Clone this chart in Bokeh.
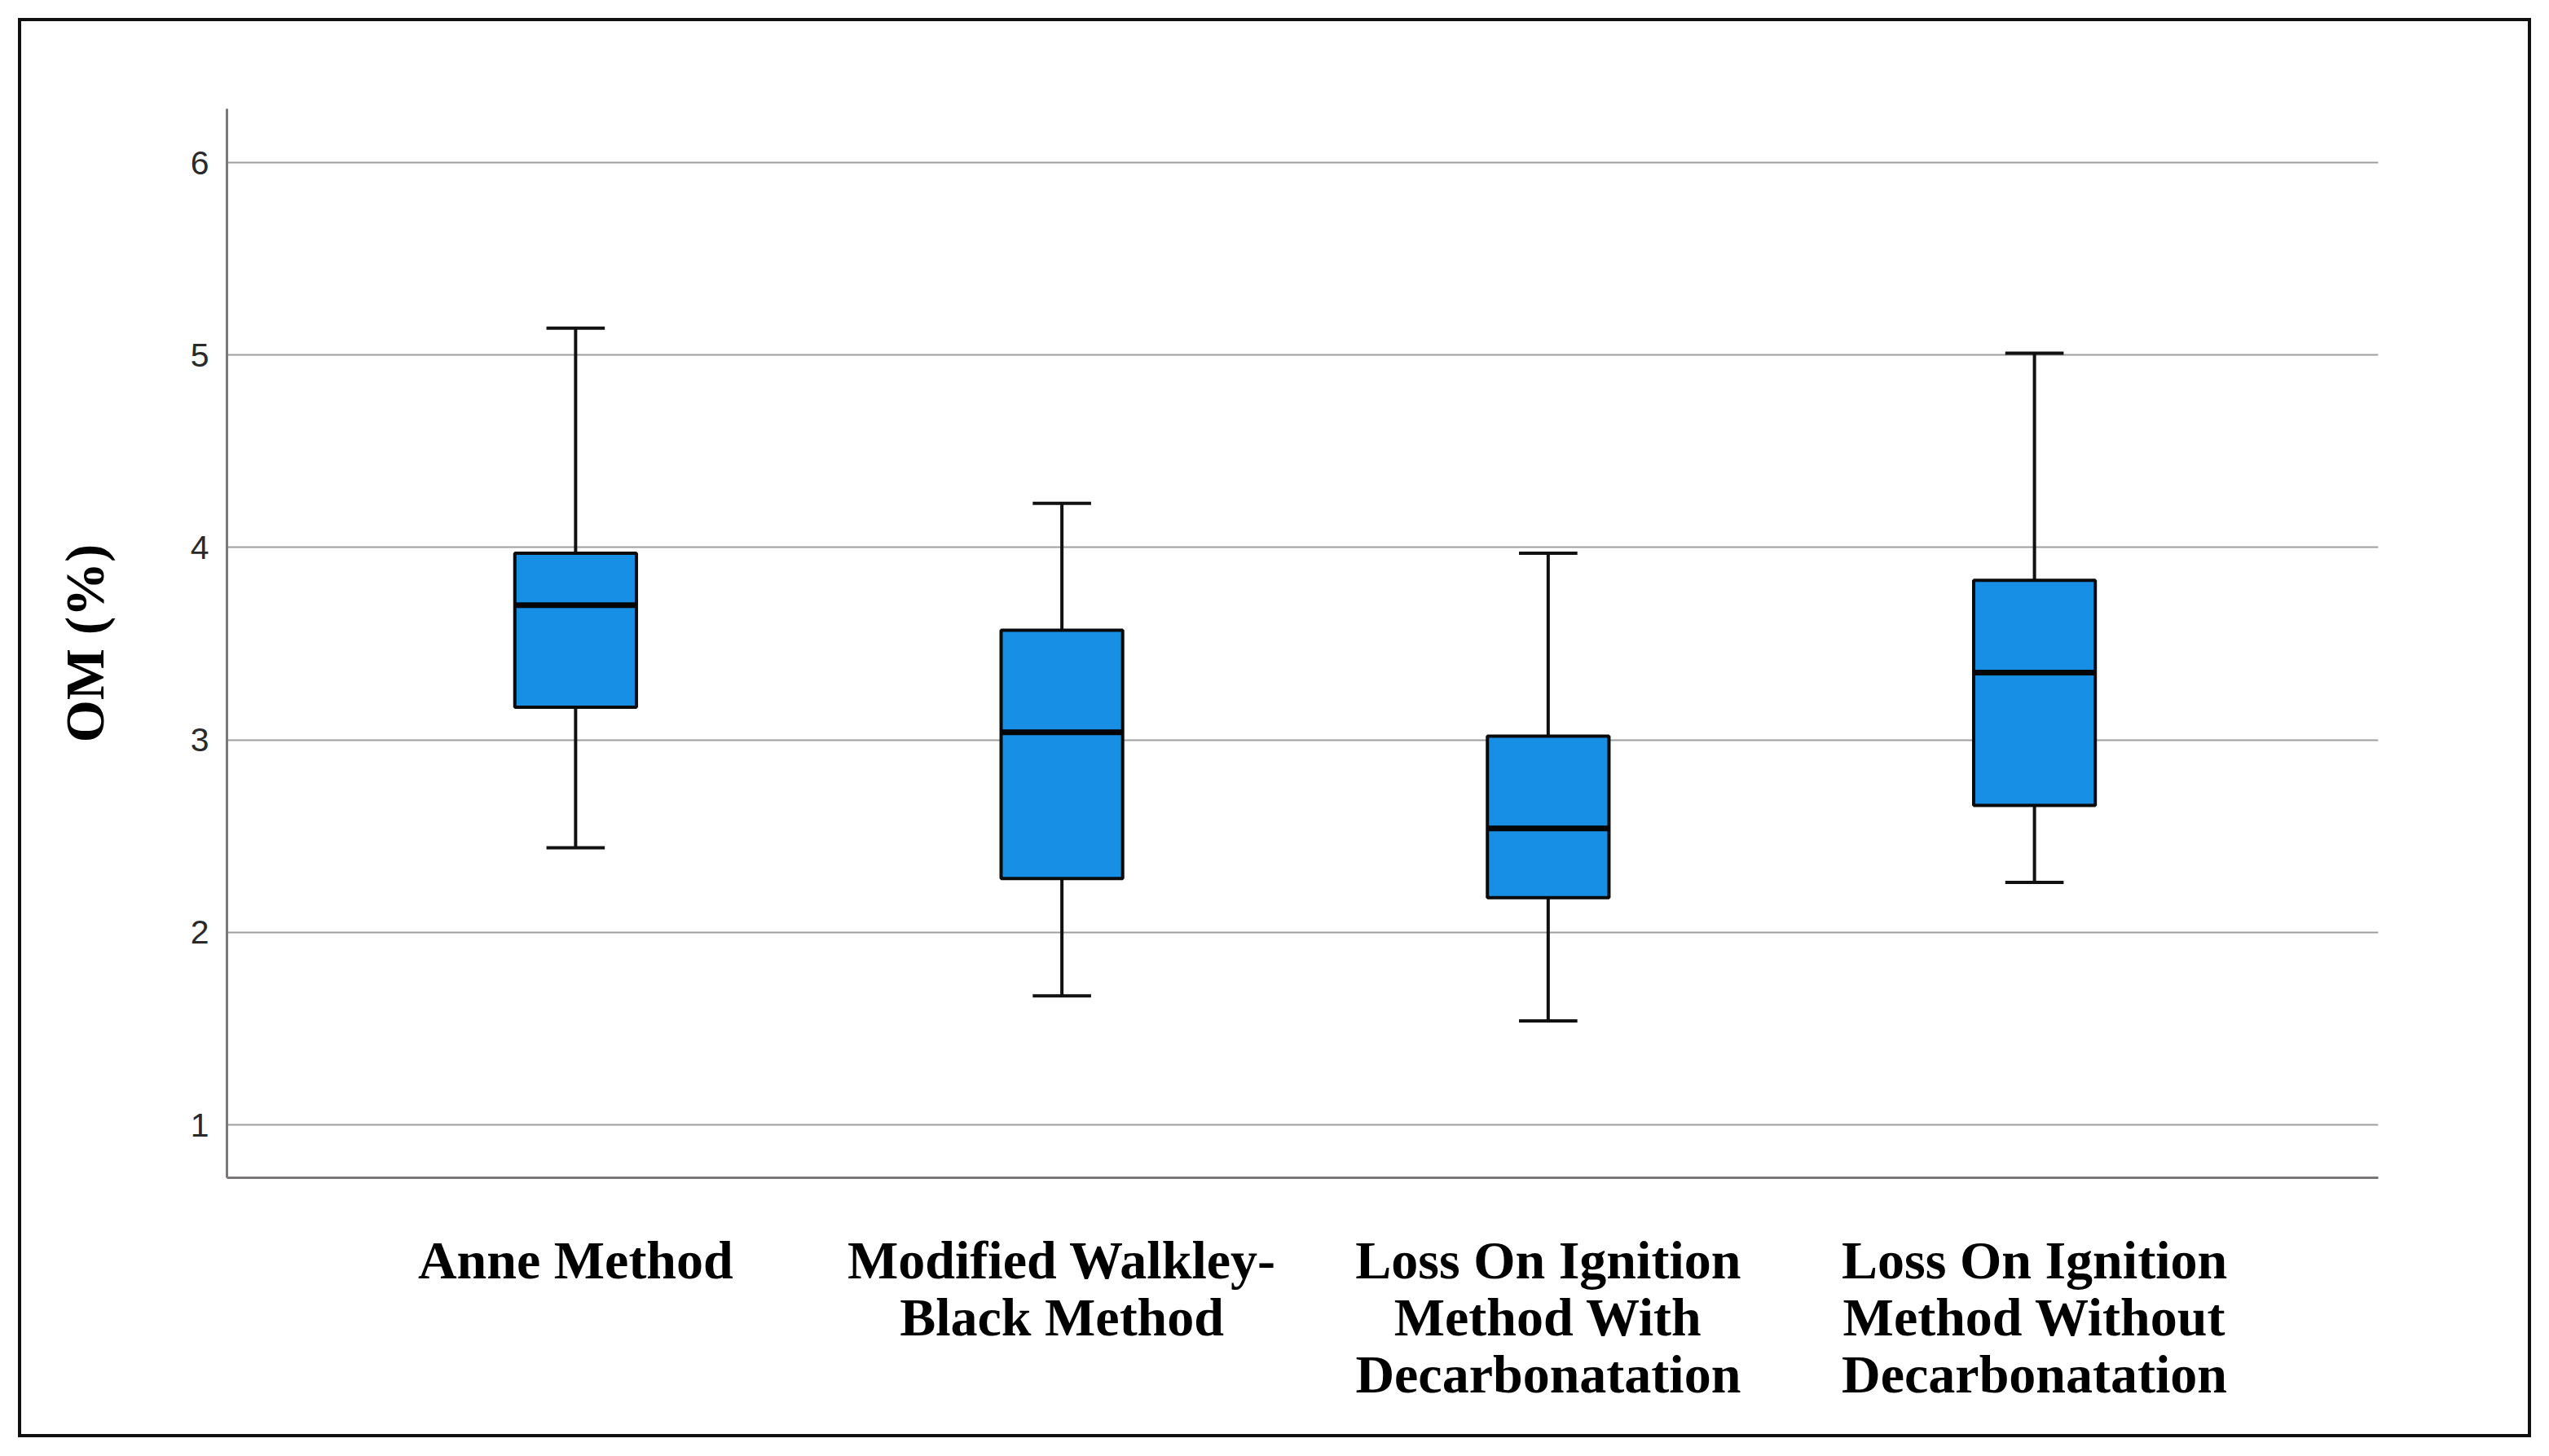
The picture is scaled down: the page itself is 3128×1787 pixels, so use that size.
from bokeh.plotting import figure
from bokeh.models import FixedTicker, Range1d, InlineStyleSheet
from bokeh.embed import file_html
from bokeh.resources import INLINE

# ---- data ----
categories = [
    "Anne Method",
    "Modified Walkley-\nBlack Method",
    "Loss On Ignition\nMethod With\nDecarbonatation",
    "Loss On Ignition\nMethod Without\nDecarbonatation",
]
whisker_low = [2.44, 1.67, 1.54, 2.26]
q1 = [3.17, 2.28, 2.18, 2.66]
median = [3.70, 3.04, 2.54, 3.35]
q3 = [3.97, 3.57, 3.02, 3.83]
whisker_high = [5.14, 4.23, 3.97, 5.01]
y_ticks = [1, 2, 3, 4, 5, 6]

xs = list(range(len(categories)))

W, H = 3128, 1786
border_css = ":host { outline: 4px solid #111111; outline-offset: -26px; }"
p = figure(width=W, height=H, output_backend="svg", toolbar_location=None,
           x_range=Range1d(-0.717, 3.707), y_range=Range1d(0.725, 6.28),
           min_border_left=278, min_border_right=W - 2918,
           min_border_top=133, min_border_bottom=H - 1445,
           stylesheets=[InlineStyleSheet(css=border_css)])
p.styles = {"outline": "4px solid #111111", "outline-offset": "-26px"}
p.outline_line_color = None
p.background_fill_color = "white"
p.border_fill_color = None

# grid
p.xgrid.grid_line_color = None
p.ygrid.ticker = FixedTicker(ticks=y_ticks)
p.ygrid.grid_line_color = "#a09ea0"
p.ygrid.grid_line_width = 2

# whiskers
p.segment(x0=xs, y0=q3, x1=xs, y1=whisker_high, line_color="#111111", line_width=4)
p.segment(x0=xs, y0=whisker_low, x1=xs, y1=q1, line_color="#111111", line_width=4)
cap = 0.06
p.segment(x0=[x - cap for x in xs], y0=whisker_high, x1=[x + cap for x in xs], y1=whisker_high,
          line_color="#111111", line_width=4)
p.segment(x0=[x - cap for x in xs], y0=whisker_low, x1=[x + cap for x in xs], y1=whisker_low,
          line_color="#111111", line_width=4)

# boxes
p.vbar(x=xs, width=0.25, bottom=q1, top=q3, fill_color="#178fe4",
       line_color="#0a0a0a", line_width=4)
# medians
p.segment(x0=[x - 0.125 for x in xs], y0=median, x1=[x + 0.125 for x in xs], y1=median,
          line_color="#050505", line_width=7)

# y axis
ya = p.yaxis[0]
ya.ticker = FixedTicker(ticks=y_ticks)
ya.axis_line_color = "#7a767a"
ya.axis_line_width = 3
ya.major_tick_line_color = None
ya.minor_tick_line_color = None
ya.major_label_standoff = 16
ya.major_label_text_font = "Liberation Sans"
ya.major_label_text_font_size = "41px"
ya.major_label_text_color = "#2a2a2a"
ya.axis_label = "OM (%)"
ya.axis_label_text_font = "Liberation Serif"
ya.axis_label_text_font_style = "bold"
ya.axis_label_text_font_size = "67px"
ya.axis_label_text_color = "#000000"
ya.axis_label_standoff = 90

# x axis
xa = p.xaxis[0]
xa.ticker = FixedTicker(ticks=xs)
xa.major_label_overrides = {i: c for i, c in zip(xs, categories)}
xa.axis_line_color = "#7a767a"
xa.axis_line_width = 3
xa.major_tick_line_color = None
xa.minor_tick_line_color = None
xa.major_label_standoff = 58
xa.major_label_text_font = "Liberation Serif"
xa.major_label_text_font_style = "bold"
xa.major_label_text_font_size = "66px"
xa.major_label_text_color = "#000000"
xa.major_label_text_line_height = 0.96

open("out.html", "w").write(file_html(p, INLINE))
